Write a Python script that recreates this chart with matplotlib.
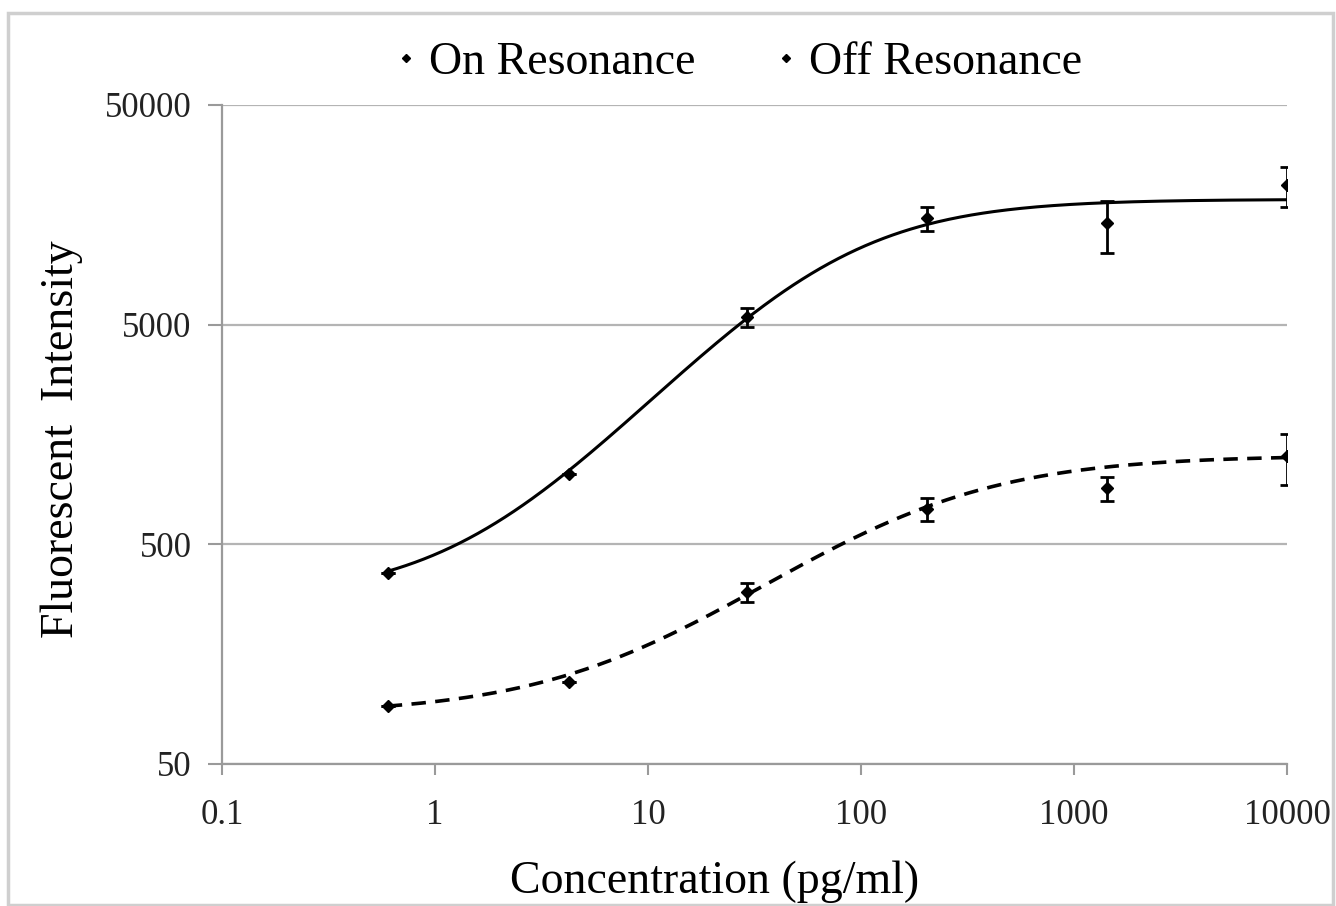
import numpy as np
import matplotlib
matplotlib.use('Agg')
import matplotlib.pyplot as plt
from matplotlib.patches import Rectangle

plt.rcParams['font.family'] = ['Liberation Serif', 'DejaVu Serif']

# concentration (pg/ml)
conc = [0.6, 4.26, 29.2, 204, 1430, 10000]

on_res = [370, 1050, 5400, 15270, 14500, 21600]
on_err = [0, 0, 530, 1970, 3850, 4500]
off_res = [92, 118, 303, 724, 902, 1262]
off_err = [0, 0, 30, 88, 116, 330]

# 4PL trendline params (bottom, top, ec50, hill)
on_fit = [280, 18600, 70, 1.1]
off_fit = [84, 1270, 160, 0.9]

xticks = [0.1, 1, 10, 100, 1000, 10000]
xlabels = ['0.1', '1', '10', '100', '1000', '10000']
yticks = [50, 500, 5000, 50000]
ylabels = ['50', '500', '5000', '50000']


def four_pl(x, b, t, c, h):
    return b + (t - b) / (1 + (c / x) ** h)


fig = plt.figure(figsize=(13.36, 9.06), dpi=100)
ax = fig.add_axes([222 / 1336, 1 - 764 / 906, (1287 - 222) / 1336, (764 - 105) / 906])

xs = np.logspace(np.log10(conc[0]), np.log10(conc[-1]), 400)
ax.plot(xs, four_pl(xs, *on_fit), color='black', lw=2.2, zorder=3)
ax.plot(xs, four_pl(xs, *off_fit), color='black', lw=2.6, ls=(0, (4, 2.6)), zorder=3)

ax.errorbar(conc, on_res, yerr=on_err, fmt='D', ms=6.5, color='black', ecolor='black',
            elinewidth=2, capsize=5, capthick=2, zorder=4, label='On Resonance')
ax.errorbar(conc, off_res, yerr=off_err, fmt='D', ms=6.5, color='black', ecolor='black',
            elinewidth=2, capsize=5, capthick=2, zorder=4, label='Off Resonance')

ax.set_xscale('log')
ax.set_yscale('log')
ax.set_xlim(0.1, 10000)
ax.set_ylim(50, 50000)
ax.set_xticks(xticks)
ax.set_xticklabels(xlabels)
ax.set_yticks(yticks)
ax.set_yticklabels(ylabels)
ax.minorticks_off()

ax.grid(axis='y', color='#b4b4b4', lw=1.6)
ax.set_axisbelow(True)
for s in ['top', 'right']:
    ax.spines[s].set_visible(False)
for s in ['left', 'bottom']:
    ax.spines[s].set_color('#9a9a9a')
    ax.spines[s].set_linewidth(1.6)
ax.tick_params(axis='x', direction='out', length=8, width=1.5, color='#9a9a9a',
               labelsize=25, pad=17)
ax.tick_params(axis='y', direction='out', length=10, width=1.5, color='#9a9a9a',
               labelsize=25, pad=12)
for lab in ax.get_xticklabels() + ax.get_yticklabels():
    lab.set_color('#222222')

ax.set_xlabel('Concentration (pg/ml)', fontsize=33)
ax.xaxis.set_label_coords(715 / 1336, 1 - 882 / 906, transform=fig.transFigure)
ax.set_ylabel('Fluorescent  Intensity', fontsize=33)
ax.yaxis.set_label_coords(62 / 1336, 1 - 439 / 906, transform=fig.transFigure)
ax.xaxis.label.set_va('center')
ax.yaxis.label.set_va('center')

h, l = ax.get_legend_handles_labels()
hs = [plt.Line2D([], [], ls='none', marker='D', ms=4, color='black') for _ in h]
ax.legend(hs, l, loc='center', bbox_to_anchor=(737 / 1336, 1 - 63 / 906),
          bbox_transform=fig.transFigure, ncol=2, frameon=False, fontsize=33,
          handletextpad=0.2, columnspacing=1.67, handlelength=0.6)

fig.patches.append(Rectangle((8 / 1336, 1 / 906), 1325 / 1336, 892 / 906,
                             transform=fig.transFigure, fill=False,
                             edgecolor='#cfcfcf', lw=2.5))

fig.savefig('out.png', dpi=100)
